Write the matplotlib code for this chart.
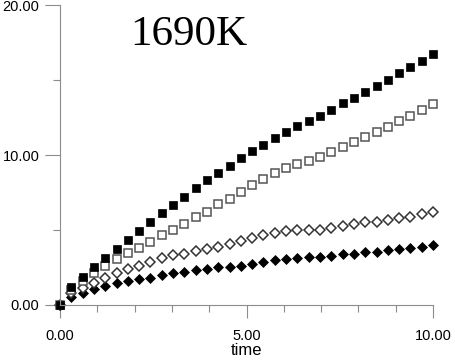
import numpy as np
import matplotlib
matplotlib.use("Agg")
import matplotlib.pyplot as plt
from matplotlib.ticker import MultipleLocator, FormatStrFormatter

# sample times: 34 evenly spaced points from 0 to 10
time = np.linspace(0, 10, 34)

# series
sq_filled = [0, 1.18, 1.89, 2.51, 3.15, 3.75, 4.33, 4.93, 5.53, 6.13, 6.67, 7.22,
             7.78, 8.33, 8.82, 9.29, 9.80, 10.25, 10.67, 11.13, 11.56, 11.93, 12.27,
             12.62, 13.00, 13.47, 13.82, 14.22, 14.62, 15.02, 15.44, 15.87, 16.29, 16.73]
sq_open = [0, 1.00, 1.60, 2.11, 2.60, 3.04, 3.49, 3.82, 4.22, 4.64, 5.00, 5.40,
           5.85, 6.22, 6.70, 7.09, 7.52, 8.02, 8.42, 8.80, 9.13, 9.39, 9.60,
           9.89, 10.18, 10.56, 10.84, 11.18, 11.53, 11.89, 12.24, 12.60, 13.00, 13.40]
dia_open = [0, 0.80, 1.10, 1.44, 1.78, 2.11, 2.38, 2.60, 2.85, 3.10, 3.30, 3.40,
            3.58, 3.71, 3.86, 4.04, 4.25, 4.49, 4.67, 4.82, 4.93, 4.98, 5.00,
            5.02, 5.16, 5.29, 5.38, 5.51, 5.56, 5.67, 5.78, 5.89, 6.04, 6.22]
dia_filled = [0, 0.56, 0.78, 1.04, 1.27, 1.44, 1.62, 1.71, 1.82, 2.00, 2.11, 2.22,
              2.33, 2.42, 2.51, 2.55, 2.62, 2.71, 2.84, 3.00, 3.07, 3.11, 3.18,
              3.18, 3.27, 3.38, 3.40, 3.51, 3.56, 3.69, 3.73, 3.78, 3.89, 4.00]

plt.rcParams['font.family'] = ['Liberation Sans', 'DejaVu Sans']

fig = plt.figure(figsize=(4.56, 3.63), dpi=100)
ax = fig.add_axes([0.1316, 0.1598, 0.818, 0.8264])

axis_grey = '#8c8c8c'

ax.plot(time, dia_filled, 'D', ms=4.6, mfc='black', mec='black', mew=0.5, clip_on=False)
ax.plot(time, dia_open, 'D', ms=4.6, mfc='white', mec='#333333', mew=1.1, clip_on=False)
ax.plot(time, sq_open, 's', ms=6.0, mfc='white', mec='#555555', mew=1.1, clip_on=False)
ax.plot(time, sq_filled, 's', ms=6.3, mfc='black', mec='black', mew=0.5, clip_on=False)

ax.set_xlim(0, 10)
ax.set_ylim(0, 20)

ax.xaxis.set_major_locator(MultipleLocator(5))
ax.xaxis.set_minor_locator(MultipleLocator(1))
ax.yaxis.set_major_locator(MultipleLocator(10))
ax.yaxis.set_minor_locator(MultipleLocator(5))
ax.xaxis.set_major_formatter(FormatStrFormatter('%.2f'))
ax.yaxis.set_major_formatter(FormatStrFormatter('%.2f'))

for side in ['top', 'right']:
    ax.spines[side].set_visible(False)
for side in ['left', 'bottom']:
    ax.spines[side].set_color(axis_grey)
    ax.spines[side].set_linewidth(0.8)

ax.tick_params(axis='y', which='major', length=10.8, width=0.8, color=axis_grey,
               labelsize=10.5, pad=4)
ax.tick_params(axis='y', which='minor', length=5, width=0.8, color=axis_grey)
ax.tick_params(axis='x', which='major', length=9.4, width=0.8, color=axis_grey,
               labelsize=10.5, pad=8)
ax.tick_params(axis='x', which='minor', length=5, width=0.8, color=axis_grey)

ax.set_xlabel('time', fontsize=12, labelpad=0)

ax.text(3.46, 18.05, '1690K', fontfamily='Liberation Serif', fontsize=31,
        ha='center', va='center')

fig.savefig('out.png', dpi=100)
